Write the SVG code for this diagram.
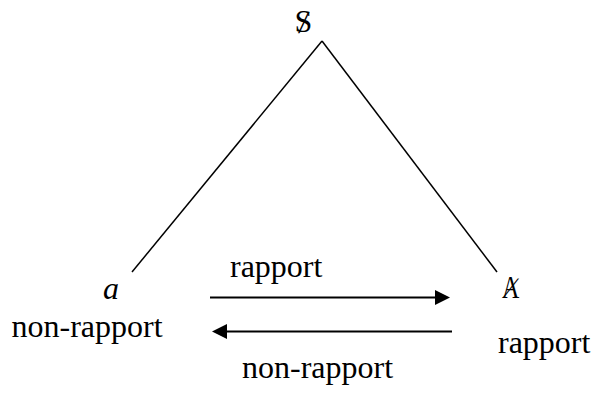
<svg xmlns="http://www.w3.org/2000/svg" width="595" height="394" viewBox="0 0 595 394">
  <style>
    text { font-family: "Liberation Serif", "Times New Roman", serif; font-size: 32px; fill: #000; }
    .it { font-style: italic; }
    .edge { stroke: #000; stroke-width: 1.5; fill: none; }
    .arrow { stroke: #000; stroke-width: 2; fill: none; marker-end: url(#head); }
  </style>
  <defs>
    <marker id="head" viewBox="0 0 15 15" refX="0" refY="7.5" markerWidth="15" markerHeight="15" markerUnits="userSpaceOnUse" orient="auto">
      <path d="M0,0 L15,7.5 L0,15 Z" fill="#000"/>
    </marker>
  </defs>
  <rect width="595" height="394" fill="#fff"/>

  <g id="connectors">
    <line class="edge" x1="132" y1="272" x2="322" y2="41"/>
    <line class="edge" x1="322" y1="41" x2="497" y2="272"/>
    <line class="arrow" x1="210" y1="297.5" x2="435" y2="297.5"/>
    <line class="arrow" x1="452" y1="331.5" x2="227" y2="331.5"/>
    <text x="230" y="277">rapport</text>
    <text x="242" y="378">non-rapport</text>
  </g>

  <g id="node-S">
    <text x="294.5" y="32">S</text>
    <text transform="translate(298,32.5) skewX(-7)">/</text>
  </g>

  <g id="node-a">
    <text class="it" x="103" y="299">a</text>
    <text x="11.5" y="337">non-rapport</text>
  </g>

  <g id="node-A">
    <text transform="translate(502,298) scale(0.75,1)">A</text>
    <text transform="translate(503,297) skewX(-24)" style="font-size:28px">/</text>
    <text x="498" y="353">rapport</text>
  </g>
</svg>
